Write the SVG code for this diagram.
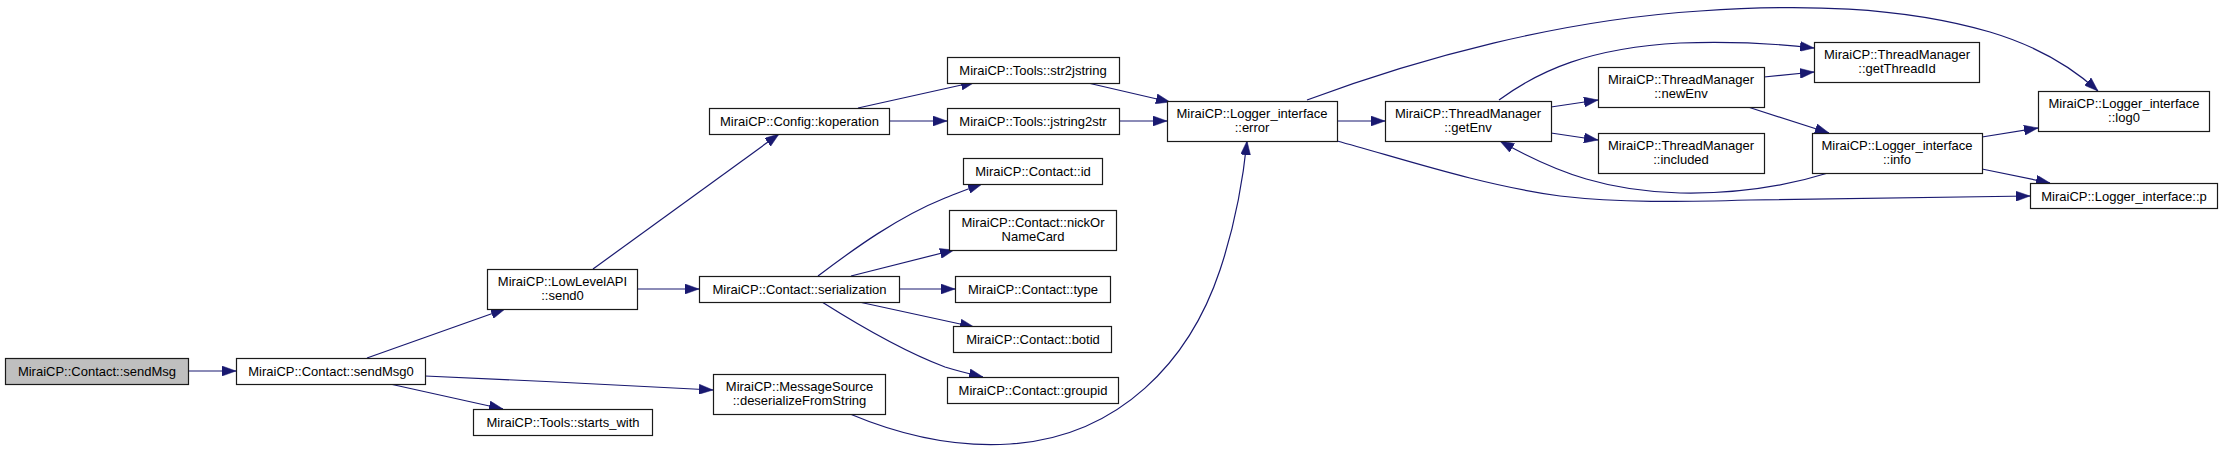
<svg xmlns="http://www.w3.org/2000/svg" width="2223" height="451" viewBox="0 0 2223 451">
<style>
.n rect{fill:#ffffff;stroke:#1a1a1a;stroke-width:1.2}
.n.root rect{fill:#bfbfbf}
.n text{font-family:"Liberation Sans",Arial,sans-serif;font-size:13px;fill:#000;text-anchor:middle}
.e path{fill:none;stroke:#191970;stroke-width:1.2;marker-end:url(#arr)}
</style>
<defs>
<marker id="arr" markerUnits="userSpaceOnUse" markerWidth="14" markerHeight="10" refX="14" refY="5" orient="auto" viewBox="0 0 14 10">
<path d="M0,0 L14,5 L0,10 z" fill="#191970" stroke="#191970" stroke-width="0.5"/>
</marker>
</defs>
<rect width="2223" height="451" fill="#ffffff"/>
<g id="edges" class="e">
<path d="M188,371 L236,371"/>
<path d="M367,358 L505,309"/>
<path d="M425,376 C520,380 620,385 713,390"/>
<path d="M390,384 L503,409"/>
<path d="M593,269 L779,134"/>
<path d="M637,289 L699,289"/>
<path d="M858,108 L975,82"/>
<path d="M889,121 L947,121"/>
<path d="M1088,83 L1170,102"/>
<path d="M1119,121 L1167,121"/>
<path d="M818,276 C855,248 898,217 945,198 C958,193 970,188 982,184"/>
<path d="M851,276 L954,250"/>
<path d="M899,289 L955,289"/>
<path d="M859,302 L974,327"/>
<path d="M822,302 C860,326 905,352 945,367 C958,371 970,374 983,377"/>
<path d="M850,414 C893,432 950,448 1010,444 C1120,437 1190,360 1220,270 C1235,225 1243,180 1247,141"/>
<path d="M1337,121 L1385,121"/>
<path d="M1307,100 C1420,58 1560,20 1700,11 C1800,4 1900,6 1990,32 C2040,47 2075,70 2098,91"/>
<path d="M1499,100 C1540,70 1590,48 1680,43 C1740,41 1780,44 1814,48"/>
<path d="M1551,107 L1598,100"/>
<path d="M1551,133 L1598,140"/>
<path d="M1764,77 L1814,72"/>
<path d="M1748,107 L1829,133"/>
<path d="M1828,173 C1780,188 1730,194 1680,193 C1610,191 1560,175 1500,141"/>
<path d="M1337,141 C1400,158 1480,185 1560,196 C1620,203 1680,202 1750,200 L2030,196"/>
<path d="M1982,137 L2038,128"/>
<path d="M1982,169 L2050,183"/>
</g>
<g id="sendMsg" class="n root"><rect x="5.5" y="358.5" width="183" height="26"/><text x="97" y="376">MiraiCP::Contact::sendMsg</text></g>
<g id="sendMsg0" class="n"><rect x="236.5" y="358.5" width="189" height="26"/><text x="331" y="376">MiraiCP::Contact::sendMsg0</text></g>
<g id="send0" class="n"><rect x="487.5" y="269.5" width="150" height="40"/><text x="562.5" y="285.5">MiraiCP::LowLevelAPI</text><text x="562.5" y="300">::send0</text></g>
<g id="starts_with" class="n"><rect x="473.5" y="409.5" width="179" height="26"/><text x="563" y="427">MiraiCP::Tools::starts_with</text></g>
<g id="koperation" class="n"><rect x="709.5" y="108.5" width="180" height="26"/><text x="799.5" y="126">MiraiCP::Config::koperation</text></g>
<g id="serialization" class="n"><rect x="699.5" y="276.5" width="200" height="26"/><text x="799.5" y="294">MiraiCP::Contact::serialization</text></g>
<g id="deserializeFromString" class="n"><rect x="713.5" y="374.5" width="172" height="40"/><text x="799.5" y="390.5">MiraiCP::MessageSource</text><text x="799.5" y="405">::deserializeFromString</text></g>
<g id="str2jstring" class="n"><rect x="947.5" y="57.5" width="172" height="26"/><text x="1033" y="75">MiraiCP::Tools::str2jstring</text></g>
<g id="jstring2str" class="n"><rect x="947.5" y="108.5" width="172" height="26"/><text x="1033" y="126">MiraiCP::Tools::jstring2str</text></g>
<g id="id" class="n"><rect x="963.5" y="158.5" width="139" height="26"/><text x="1033" y="176">MiraiCP::Contact::id</text></g>
<g id="nickOrNameCard" class="n"><rect x="949.5" y="210.5" width="167" height="40"/><text x="1033" y="226.5">MiraiCP::Contact::nickOr</text><text x="1033" y="241">NameCard</text></g>
<g id="type" class="n"><rect x="955.5" y="276.5" width="155" height="26"/><text x="1033" y="294">MiraiCP::Contact::type</text></g>
<g id="botid" class="n"><rect x="953.5" y="326.5" width="158" height="26"/><text x="1033" y="344">MiraiCP::Contact::botid</text></g>
<g id="groupid" class="n"><rect x="947.5" y="377.5" width="171" height="26"/><text x="1033" y="395">MiraiCP::Contact::groupid</text></g>
<g id="error" class="n"><rect x="1167.5" y="101.5" width="170" height="40"/><text x="1252" y="117.5">MiraiCP::Logger_interface</text><text x="1252" y="132">::error</text></g>
<g id="getEnv" class="n"><rect x="1385.5" y="101.5" width="166" height="40"/><text x="1468" y="117.5">MiraiCP::ThreadManager</text><text x="1468" y="132">::getEnv</text></g>
<g id="newEnv" class="n"><rect x="1598.5" y="67.5" width="166" height="40"/><text x="1681" y="83.5">MiraiCP::ThreadManager</text><text x="1681" y="98">::newEnv</text></g>
<g id="included" class="n"><rect x="1598.5" y="133.5" width="166" height="40"/><text x="1681" y="149.5">MiraiCP::ThreadManager</text><text x="1681" y="164">::included</text></g>
<g id="getThreadId" class="n"><rect x="1814.5" y="42.5" width="165" height="40"/><text x="1897" y="58.5">MiraiCP::ThreadManager</text><text x="1897" y="73">::getThreadId</text></g>
<g id="info" class="n"><rect x="1812.5" y="133.5" width="170" height="40"/><text x="1897" y="149.5">MiraiCP::Logger_interface</text><text x="1897" y="164">::info</text></g>
<g id="log0" class="n"><rect x="2038.5" y="91.5" width="171" height="40"/><text x="2124" y="107.5">MiraiCP::Logger_interface</text><text x="2124" y="122">::log0</text></g>
<g id="p" class="n"><rect x="2030.5" y="183.5" width="187" height="25"/><text x="2124" y="200.5">MiraiCP::Logger_interface::p</text></g>
</svg>
